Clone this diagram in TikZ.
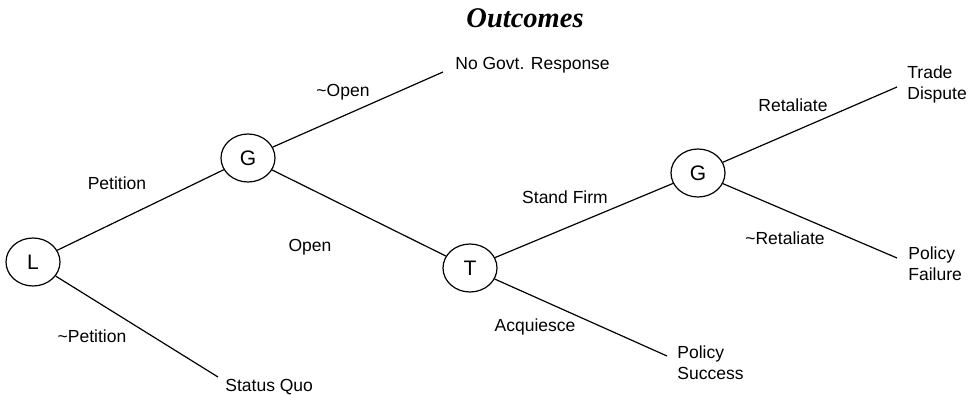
\documentclass[tikz,border=0pt]{standalone}
\usepackage{fontspec}
\setmainfont{Liberation Sans}
\newfontfamily\titlefont{Liberation Serif}
\usetikzlibrary{shapes.geometric}

\begin{document}
\begin{tikzpicture}[x=0.5pt, y=-0.5pt,
    font=\fontsize{8.75}{10.5}\selectfont,
    player/.style={ellipse, draw, line width=0.6pt, minimum width=27pt, minimum height=24pt, inner sep=0pt, font=\fontsize{10.5}{12}\selectfont},
    branch/.style={line width=0.6pt},
    outcome/.style={anchor=west, align=left, inner sep=0pt},
    move/.style={inner sep=0pt}]
    % ================= Canvas =================
    \path[use as bounding box] (0,0) rectangle (974,396);

    % ================= Title =================
    \node[font=\titlefont\bfseries\itshape\fontsize{14.25}{16}\selectfont] (title) at (525,18) {Outcomes};

    % ================= Decision nodes =================
    \node[player] (L)  at (33,262)  {L};
    \node[player] (G1) at (248,158) {G};
    \node[player] (T)  at (470,268) {T};
    \node[player] (G2) at (698,173) {G};

    % Free ends of the terminal branches
    \coordinate (sqEnd) at (218,377);
    \coordinate (ngEnd) at (443,72);
    \coordinate (psEnd) at (667,356);
    \coordinate (tdEnd) at (897,87);
    \coordinate (pfEnd) at (897,258);

    % ================= Outcomes =================
    \node[outcome] (sq) at (225,387) {Status Quo};
    \node[outcome] (ng) at (455,65)  {No Govt. Response};
    \node[outcome] (ps) at (677,363) {Policy\\Success};
    \node[outcome] (td) at (907,84)  {Trade\\Dispute};
    \node[outcome] (pf) at (908,264) {Policy\\Failure};

    % ================= Branches =================
    \draw[branch] (L) -- (G1);
    \draw[branch] (L) -- (sqEnd);
    \draw[branch] (G1) -- (ngEnd);
    \draw[branch] (G1) -- (T);
    \draw[branch] (T) -- (G2);
    \draw[branch] (T) -- (psEnd);
    \draw[branch] (G2) -- (tdEnd);
    \draw[branch] (G2) -- (pfEnd);

    % ================= Moves =================
    \node[move] (petition)   at (117,183) {Petition};
    \node[move] (noPetition) at (92,336)  {\textasciitilde Petition};
    \node[move] (noOpen)     at (343,92)  {\textasciitilde Open};
    \node[move] (open)       at (310,247) {Open};
    \node[move] (standFirm)  at (565,197) {Stand Firm};
    \node[move] (acquiesce)  at (535,327) {Acquiesce};
    \node[move] (retaliate)  at (793,105) {Retaliate};
    \node[move] (noRetal)    at (785,238) {\textasciitilde Retaliate};
\end{tikzpicture}
\end{document}
